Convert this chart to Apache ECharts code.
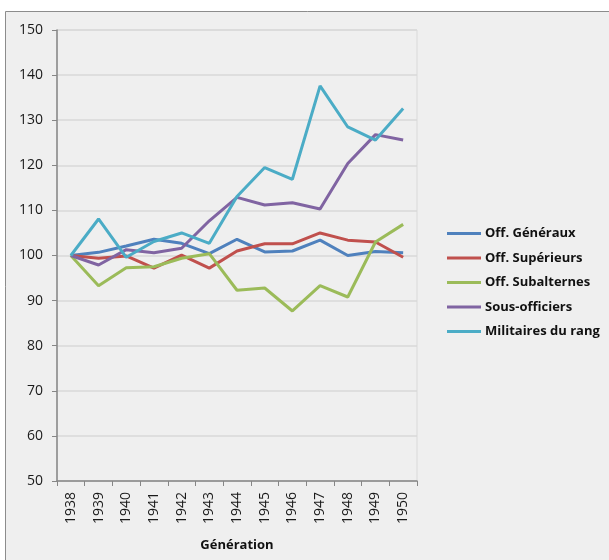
<!DOCTYPE html>
<html>
<head>
<meta charset="utf-8">
<script src="https://cdn.jsdelivr.net/npm/echarts@6/dist/echarts.min.js"></script>
<style>
  html, body { margin: 0; padding: 0; background: #ffffff; }
  #chart { width: 609px; height: 560px; }
</style>
</head>
<body>
<div id="chart"></div>
<script>
// Generations (x categories)
const years = ['1938','1939','1940','1941','1942','1943','1944','1945','1946','1947','1948','1949','1950'];

// Index values (1938 = 100) per rank group
const offGeneraux    = [100, 100.7, 102.1, 103.6, 102.7, 100.4, 103.6, 100.8, 101.0, 103.4, 100.0, 100.9, 100.6];
const offSuperieurs  = [100, 99.4, 99.9, 97.2, 100.1, 97.2, 101.0, 102.6, 102.6, 105.0, 103.4, 103.0, 99.6];
const offSubalternes = [100, 93.3, 97.3, 97.5, 99.4, 100.4, 92.3, 92.8, 87.7, 93.3, 90.8, 103.0, 106.9];
const sousOfficiers  = [100, 97.9, 101.3, 100.6, 101.6, 107.7, 112.9, 111.2, 111.7, 110.3, 120.4, 126.8, 125.6];
const militairesRang = [100, 108.1, 99.6, 103.1, 105.0, 102.7, 113.1, 119.5, 116.9, 137.6, 128.5, 125.6, 132.6];

const seriesNames = ['Off. Généraux', 'Off. Supérieurs', 'Off. Subalternes', 'Sous-officiers', 'Militaires du rang'];
const seriesData = [offGeneraux, offSuperieurs, offSubalternes, sousOfficiers, militairesRang];
const colors = ['#4F81BD', '#C0504D', '#9BBB59', '#8064A2', '#4BACC6'];

const font = '"Open Sans", "Liberation Sans", sans-serif';

const chart = echarts.init(document.getElementById('chart'), null, { renderer: 'canvas' });

chart.setOption({
  backgroundColor: '#ffffff',
  animation: false,
  color: colors,
  graphic: [{
    type: 'rect',
    z: -10,
    silent: true,
    shape: { x: 5.5, y: 11.5, width: 620, height: 600 },
    style: { fill: '#efefef', stroke: '#8c8c8c', lineWidth: 1 }
  }],
  grid: {
    left: 57, top: 30, width: 360, height: 451,
    show: true, borderColor: '#d9d9d9', borderWidth: 1,
    backgroundColor: 'transparent',
    containLabel: false
  },
  legend: {
    orient: 'vertical',
    left: 442, top: 222,
    itemWidth: 34, itemHeight: 3, itemGap: 11.5,
    icon: 'rect',
    textStyle: { fontFamily: font, fontWeight: 'bold', fontSize: 13, color: '#111111', padding: [0, 0, 0, -1] },
    data: seriesNames
  },
  xAxis: {
    type: 'category',
    data: years,
    boundaryGap: true,
    name: 'Génération',
    nameLocation: 'middle',
    nameGap: 58,
    nameTextStyle: { fontFamily: font, fontWeight: 'bold', fontSize: 13, color: '#111111' },
    axisLine: { lineStyle: { color: '#868686', width: 1.5 } },
    axisTick: { show: true, alignWithLabel: false, length: 5, lineStyle: { color: '#868686' } },
    axisLabel: { rotate: 90, fontFamily: font, fontSize: 14, color: '#1a1a1a', margin: 11, interval: 0 },
    splitLine: { show: false }
  },
  yAxis: {
    type: 'value',
    min: 50, max: 150, interval: 10,
    axisLine: { show: true, lineStyle: { color: '#868686', width: 1.5 } },
    axisTick: { show: true, length: 5, lineStyle: { color: '#868686' } },
    axisLabel: { fontFamily: font, fontSize: 14, color: '#1a1a1a', margin: 14 },
    splitLine: { show: true, lineStyle: { color: '#d9d9d9', width: 1.5 } }
  },
  series: seriesNames.map((name, i) => ({
    name: name,
    type: 'line',
    data: seriesData[i],
    symbol: 'none',
    smooth: false,
    lineStyle: { width: 3, color: colors[i] },
    itemStyle: { color: colors[i] }
  }))
});
</script>
</body>
</html>
